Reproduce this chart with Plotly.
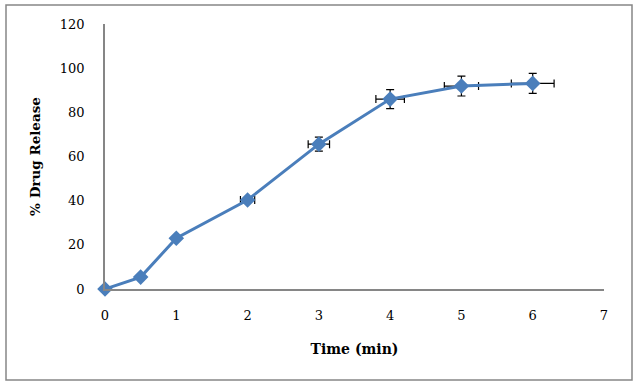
import plotly.graph_objects as go

time_min = [0, 0.5, 1, 2, 3, 4, 5, 6]
drug_release = [0, 5.4, 23, 40.3, 65.6, 86, 91.9, 93.1]
err_y = [0, 0, 1.0, 1.0, 3.2, 4.3, 4.5, 4.5]
err_x = [0, 0, 0.03, 0.1, 0.15, 0.2, 0.24, 0.3]
x_ticks = [0, 1, 2, 3, 4, 5, 6, 7]
y_ticks = [0, 20, 40, 60, 80, 100, 120]

FONT = "DejaVu Serif"
L, R, T, B = 105, 34, 24, 97
W, H = 638, 386
pw, ph = W - L - R, H - T - B

fig = go.Figure()
fig.add_trace(go.Scatter(
    x=time_min, y=drug_release, mode="lines+markers",
    line=dict(color="#4A7EBB", width=3),
    marker=dict(symbol="diamond", size=12, color="#4A7EBB"),
    error_y=dict(type="data", array=err_y, visible=True, color="black", thickness=1.2, width=4),
    error_x=dict(type="data", array=err_x, visible=True, color="black", thickness=1.2, width=4),
    showlegend=False,
    cliponaxis=False,
))

fig.update_layout(
    width=W, height=H,
    margin=dict(l=L, r=R, t=T, b=B, autoexpand=False),
    paper_bgcolor="white", plot_bgcolor="white",
    font=dict(family=FONT, size=13, color="black"),
    xaxis=dict(range=[0, 7], tickvals=x_ticks, showgrid=False, zeroline=False,
               showline=True, linecolor="#868686", linewidth=1.5, ticks="",
               tickfont=dict(size=13), ticklabelstandoff=14, automargin=False,
               title=dict(text="<b>Time (min)</b>", font=dict(size=14), standoff=22)),
    yaxis=dict(range=[0, 120], tickvals=y_ticks, showgrid=False, zeroline=False,
               showline=True, linecolor="#868686", linewidth=1.5, ticks="",
               tickfont=dict(size=13), ticklabelstandoff=16, automargin=False,
               title=dict(text="<b>% Drug Release</b>", font=dict(size=13.5), standoff=16)),
)

# chart outer border
fig.add_shape(type="rect", xref="paper", yref="paper",
              x0=(6 - L) / pw, x1=(632 - L) / pw,
              y0=(H - B - 380) / ph, y1=(H - B - 5) / ph,
              line=dict(color="#868686", width=1.5), layer="below")

fig.write_html("out.html", config={"displayModeBar": False})

# remove default page margin so the figure sits at the window origin
with open("out.html", "r", encoding="utf-8") as f:
    html = f.read()
html = html.replace("<head>", "<head><style>html,body{margin:0;padding:0;overflow:hidden;}</style>", 1)
with open("out.html", "w", encoding="utf-8") as f:
    f.write(html)
